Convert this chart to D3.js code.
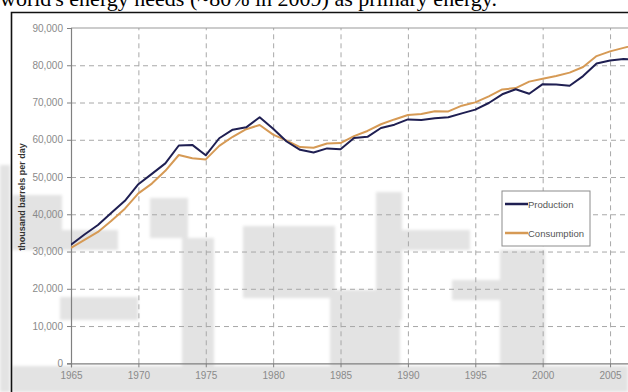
<!DOCTYPE html>
<html>
<head>
<meta charset="utf-8">
<script src="https://cdn.jsdelivr.net/npm/d3@7"></script>
<style>
  html, body { margin: 0; padding: 0; background: #fff; }
  svg { display: block; }
  .tick text { font-family: Arial, "Liberation Sans", sans-serif; }
</style>
</head>
<body>
<svg id="chart" width="628" height="392"></svg>
<script>
// World oil production vs consumption, thousand barrels per day
const years = d3.range(1965, 2008);
const production = [
  31807, 34568, 37119, 40440, 43628, 48062, 50849, 53665, 58464, 58619,
  55828, 60407, 62710, 63337, 66049, 62949, 59541, 57306, 56595, 57686,
  57460, 60462, 60781, 63150, 64055, 65471, 65283, 65762, 66024, 67095,
  68091, 69863, 72204, 73570, 72346, 74930, 74830, 74501, 77098, 80456,
  81262, 81659, 81533
];
const consumption = [
  30970, 33120, 35250, 38280, 41510, 45620, 48240, 51670, 55910, 55060,
  54730, 58370, 60800, 62840, 63970, 61390, 59760, 58050, 57860, 58980,
  59120, 60990, 62360, 64170, 65460, 66630, 66920, 67670, 67600, 69150,
  70040, 71670, 73510, 73880, 75610, 76380, 77100, 78030, 79540, 82460,
  83720, 84660, 85600
];
const seriesNames = ["Production", "Consumption"];
const yTicks = [0, 10000, 20000, 30000, 40000, 50000, 60000, 70000, 80000, 90000];
const xTicks = [1965, 1970, 1975, 1980, 1985, 1990, 1995, 2000, 2005];
const headline = "world's energy needs (~80% in 2009) as primary energy.";
const yTitle = "thousand barrels per day";

const colors = { Production: "#1f1f52", Consumption: "#d69a55" };

const svg = d3.select("#chart");
const W = 628, H = 392;

const plot = { left: 71, top: 28, bottom: 363.3, right: 637 };

const x = d3.scaleLinear().domain([1965, 2007]).range([plot.left, plot.right]);
const y = d3.scaleLinear().domain([0, 90000]).range([plot.bottom, plot.top]);

// faint grey watermark blocks behind the chart
const defs = svg.append("defs");
defs.append("filter").attr("id", "soft")
  .append("feGaussianBlur").attr("stdDeviation", 1.8);

const wm = svg.append("g").attr("fill", "#e3e3e3").attr("filter", "url(#soft)");
const wmBlocks = [
  [0, 165, 10, 227],
  [12, 366, 616, 26],
  [12, 195, 50, 55],
  [60, 230, 58, 20],
  [60, 297, 78, 23],
  [150, 198, 38, 40],
  [182, 238, 32, 154],
  [243, 226, 92, 72],
  [330, 290, 70, 102],
  [376, 192, 26, 128],
  [402, 230, 68, 20],
  [452, 280, 50, 20],
  [500, 250, 45, 142]
];
wm.selectAll("rect").data(wmBlocks).join("rect")
  .attr("x", d => d[0]).attr("y", d => d[1])
  .attr("width", d => d[2]).attr("height", d => d[3]);

// outer frame
svg.append("path")
  .attr("d", `M11.5,${H} L11.5,12.5 L${W},12.5`)
  .attr("fill", "none").attr("stroke", "#111").attr("stroke-width", 1.6);

// headline text, running off the top edge
svg.append("text")
  .attr("x", 0).attr("y", 6)
  .attr("font-family", "'Liberation Serif', 'Times New Roman', serif")
  .attr("font-size", 22)
  .attr("fill", "#000")
  .text(headline);

// horizontal grid
svg.append("g")
  .attr("transform", `translate(${plot.left},0)`)
  .call(d3.axisLeft(y).tickValues(yTicks.filter(v => v > 0 && v < 90000))
    .tickSize(-(plot.right - plot.left)).tickFormat(""))
  .call(g => g.select(".domain").remove())
  .call(g => g.selectAll("line").attr("stroke", "#a8a8a8").attr("stroke-dasharray", "5,4"));

// vertical grid
svg.append("g")
  .attr("transform", `translate(0,${plot.bottom})`)
  .call(d3.axisBottom(x).tickValues(xTicks.filter(v => v > 1965))
    .tickSize(-(plot.bottom - plot.top)).tickFormat(""))
  .call(g => g.select(".domain").remove())
  .call(g => g.selectAll("line").attr("stroke", "#a8a8a8").attr("stroke-dasharray", "5,4"));

// top border of plot
svg.append("line")
  .attr("x1", plot.left).attr("x2", plot.right)
  .attr("y1", y(90000)).attr("y2", y(90000))
  .attr("stroke", "#9a9a9a").attr("stroke-width", 1.2);

// y axis
svg.append("g")
  .attr("transform", `translate(${plot.left},0)`)
  .call(d3.axisLeft(y).tickValues(yTicks).tickSize(4).tickPadding(4)
    .tickFormat(d3.format(",")))
  .call(g => g.select(".domain").attr("stroke", "#808080").attr("stroke-width", 1.2))
  .call(g => g.selectAll("line").attr("stroke", "#808080"))
  .call(g => g.selectAll("text").attr("fill", "#8a8a8a").attr("font-size", 10));

// x axis
svg.append("g")
  .attr("transform", `translate(0,${plot.bottom})`)
  .call(d3.axisBottom(x).tickValues(xTicks).tickSize(4).tickPadding(5)
    .tickFormat(d3.format("d")))
  .call(g => g.select(".domain").attr("stroke", "#808080").attr("stroke-width", 1.2))
  .call(g => g.selectAll("line").attr("stroke", "#808080"))
  .call(g => g.selectAll("text").attr("fill", "#8a8a8a").attr("font-size", 10));

// y axis title
svg.append("text")
  .attr("transform", "translate(25,197) rotate(-90)")
  .attr("text-anchor", "middle")
  .attr("font-family", "Arial, 'Liberation Sans', sans-serif")
  .attr("font-size", 9).attr("font-weight", "bold")
  .attr("fill", "#333")
  .text(yTitle);

// series lines
const line = d3.line().x((d, i) => x(years[i])).y(d => y(d));
const seriesData = { Production: production, Consumption: consumption };

svg.append("clipPath").attr("id", "plotclip")
  .append("rect").attr("x", plot.left).attr("y", 0)
  .attr("width", plot.right - plot.left).attr("height", H);

const lines = svg.append("g").attr("clip-path", "url(#plotclip)");
["Consumption", "Production"].forEach(name => {
  lines.append("path")
    .datum(seriesData[name])
    .attr("d", line)
    .attr("fill", "none")
    .attr("stroke", colors[name])
    .attr("stroke-width", 2)
    .attr("stroke-linejoin", "round");
});

// legend
const legend = svg.append("g").attr("transform", "translate(502,191)");
legend.append("rect")
  .attr("width", 88).attr("height", 55)
  .attr("fill", "#fff").attr("stroke", "#8c8c8c").attr("stroke-width", 1);
seriesNames.forEach((name, i) => {
  const gy = 13 + i * 29;
  legend.append("line")
    .attr("x1", 3).attr("x2", 26).attr("y1", gy).attr("y2", gy)
    .attr("stroke", colors[name]).attr("stroke-width", 2.5);
  legend.append("text")
    .attr("x", 26).attr("y", gy + 3.5)
    .attr("font-family", "Arial, 'Liberation Sans', sans-serif")
    .attr("font-size", 9.5)
    .attr("fill", "#555")
    .text(name);
});
</script>
</body>
</html>
